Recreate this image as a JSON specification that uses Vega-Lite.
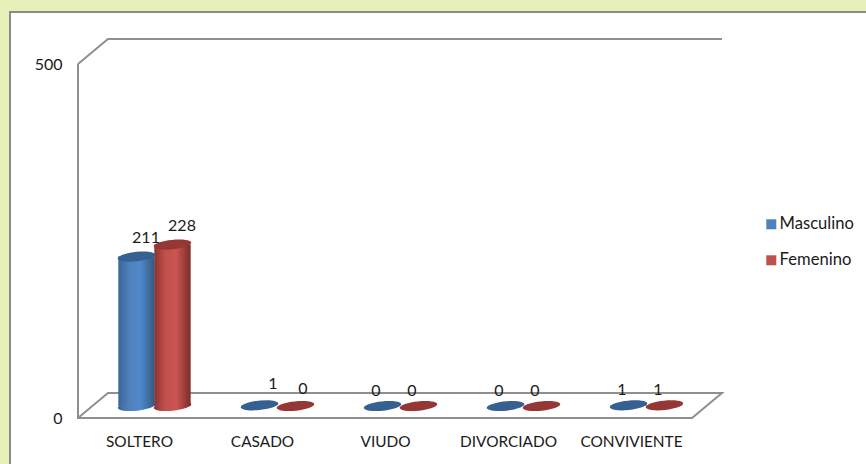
{"$schema":"https://vega.github.io/schema/vega-lite/v6.json","width":858,"height":454,"padding":{"left":10,"top":12,"right":0,"bottom":0},"autosize":"none","background":"#E6F0B8","config":{"font":"Lato","view":{"fill":"#ffffff","stroke":"#8a8a8a","strokeWidth":2}},"datasets":{"d":[{"estado":"SOLTERO","serie":"Masculino","valor":211},{"estado":"SOLTERO","serie":"Femenino","valor":228},{"estado":"CASADO","serie":"Masculino","valor":1},{"estado":"CASADO","serie":"Femenino","valor":0},{"estado":"VIUDO","serie":"Masculino","valor":0},{"estado":"VIUDO","serie":"Femenino","valor":0},{"estado":"DIVORCIADO","serie":"Masculino","valor":0},{"estado":"DIVORCIADO","serie":"Femenino","valor":0},{"estado":"CONVIVIENTE","serie":"Masculino","valor":1},{"estado":"CONVIVIENTE","serie":"Femenino","valor":1}],"f":[{"g":"a","o":1,"u":0,"v":500},{"g":"a","o":2,"u":0,"v":0},{"g":"a","o":3,"u":5,"v":0},{"g":"a","o":4,"u":5.244,"v":35.3},{"g":"a","o":5,"u":0.244,"v":35.3},{"g":"a","o":6,"u":0,"v":0},{"g":"b","o":1,"u":0,"v":500},{"g":"b","o":2,"u":0.244,"v":535.3},{"g":"b","o":3,"u":5.244,"v":535.3}]},"resolve":{"scale":{"x":"independent","y":"independent"},"axis":{"x":"independent","y":"independent"}},"layer":[{"data":{"name":"f"},"mark":{"type":"line","stroke":"#8f8f8f","strokeWidth":2,"clip":false},"encoding":{"x":{"field":"u","type":"quantitative","axis":null,"scale":{"domain":[0,5],"range":[68,682],"nice":false,"zero":false}},"y":{"field":"v","type":"quantitative","scale":{"domain":[0,500],"range":[406,52],"nice":false},"axis":{"values":[0,500],"title":null,"domain":false,"grid":false,"ticks":false,"labelPadding":16,"offset":-68,"labelFont":"Lato","labelFontSize":16,"labelColor":"#1a1a1a"}},"detail":{"field":"g"},"order":{"field":"o"}}},{"data":{"name":"d"},"encoding":{"x":{"field":"estado","type":"nominal","sort":null,"scale":{"domain":["SOLTERO","CASADO","VIUDO","DIVORCIADO","CONVIVIENTE"],"range":[83,698],"paddingInner":0.415,"paddingOuter":0.2075},"axis":{"title":null,"domain":false,"ticks":false,"labelAngle":0,"labelOffset":-15,"labelPadding":16,"offset":-48,"labelFont":"Lato","labelFontSize":15.4,"labelColor":"#1a1a1a"}},"xOffset":{"field":"serie","type":"nominal","sort":null,"scale":{"domain":["Masculino","Femenino"],"padding":0,"paddingInner":0,"paddingOuter":0}},"y":{"field":"valor","type":"quantitative","scale":{"domain":[0,500],"range":[394,40],"nice":false},"axis":null}},"layer":[{"transform":[{"filter":"datum.valor > 1"}],"mark":{"type":"bar"},"encoding":{"color":{"field":"serie","type":"nominal","scale":{"domain":["Masculino","Femenino"],"range":["#4F81BD","#C0504D"]},"legend":{"orient":"none","legendX":753,"legendY":204,"title":null,"symbolType":"square","symbolSize":100,"labelFont":"Lato","labelFontSize":16.6,"labelColor":"#1a1a1a","rowPadding":19,"labelOffset":0}}}},{"transform":[{"filter":"datum.valor > 1 && datum.serie == 'Masculino'"}],"mark":{"type":"bar","color":{"gradient":"linear","x1":0,"x2":1,"y1":0,"y2":0,"stops":[{"offset":0,"color":"#3A6599"},{"offset":0.3,"color":"#4F81BD"},{"offset":0.6,"color":"#5088CB"},{"offset":1,"color":"#35597F"}]}}},{"transform":[{"filter":"datum.valor > 1 && datum.serie == 'Femenino'"}],"mark":{"type":"bar","color":{"gradient":"linear","x1":0,"x2":1,"y1":0,"y2":0,"stops":[{"offset":0,"color":"#8E3330"},{"offset":0.3,"color":"#C0504D"},{"offset":0.6,"color":"#CC5552"},{"offset":1,"color":"#7A2E2C"}]}}},{"transform":[{"filter":"datum.valor > 1 && datum.serie == 'Masculino'"}],"mark":{"type":"point","filled":true,"opacity":1,"size":1225,"shape":"M-1,0 A1,0.25 -6 1,1 1,0 A1,0.25 -6 1,1 -1,0 Z","color":{"gradient":"linear","x1":0,"x2":1,"y1":0,"y2":0,"stops":[{"offset":0,"color":"#3A6599"},{"offset":0.3,"color":"#4F81BD"},{"offset":0.6,"color":"#5088CB"},{"offset":1,"color":"#35597F"}]}},"encoding":{"y":{"datum":0,"type":"quantitative"}}},{"transform":[{"filter":"datum.valor > 1 && datum.serie == 'Femenino'"}],"mark":{"type":"point","filled":true,"opacity":1,"size":1225,"shape":"M-1,0 A1,0.25 -6 1,1 1,0 A1,0.25 -6 1,1 -1,0 Z","color":{"gradient":"linear","x1":0,"x2":1,"y1":0,"y2":0,"stops":[{"offset":0,"color":"#8E3330"},{"offset":0.3,"color":"#C0504D"},{"offset":0.6,"color":"#CC5552"},{"offset":1,"color":"#7A2E2C"}]}},"encoding":{"y":{"datum":0,"type":"quantitative"}}},{"mark":{"type":"point","filled":true,"opacity":1,"size":1225,"shape":"M-1,0 A1,0.25 -6 1,1 1,0 A1,0.25 -6 1,1 -1,0 Z"},"encoding":{"color":{"condition":{"test":"datum.serie == 'Masculino'","value":"#376092"},"value":"#953735"}}},{"transform":[{"filter":"datum.estado == 'SOLTERO'"}],"mark":{"type":"text","dx":9.5,"dy":-19,"font":"Lato","fontSize":16,"color":"#1a1a1a"},"encoding":{"text":{"field":"valor","type":"quantitative"}}},{"transform":[{"filter":"datum.estado == 'CASADO' && datum.serie == 'Masculino'"}],"mark":{"type":"text","dx":13.5,"dy":-21,"font":"Lato","fontSize":16,"color":"#1a1a1a"},"encoding":{"text":{"field":"valor","type":"quantitative"}}},{"transform":[{"filter":"datum.estado == 'CASADO' && datum.serie == 'Femenino'"}],"mark":{"type":"text","dx":7.5,"dy":-17,"font":"Lato","fontSize":16,"color":"#1a1a1a"},"encoding":{"text":{"field":"valor","type":"quantitative"}}},{"transform":[{"filter":"datum.estado != 'CASADO' && datum.estado != 'SOLTERO'"}],"mark":{"type":"text","dx":-6.5,"dy":-15,"font":"Lato","fontSize":16,"color":"#1a1a1a"},"encoding":{"text":{"field":"valor","type":"quantitative"}}}]}]}
